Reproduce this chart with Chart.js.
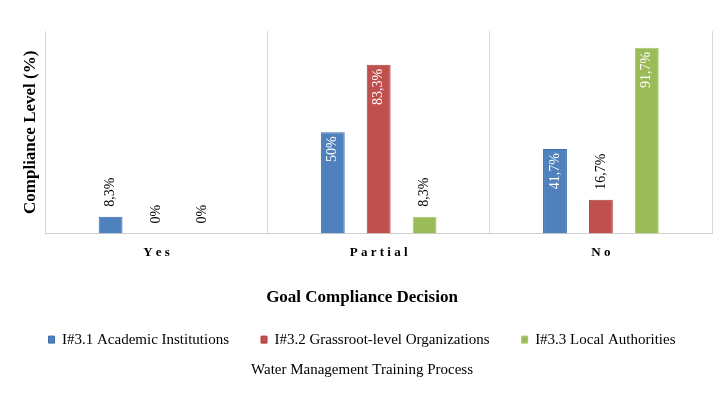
<!DOCTYPE html>
<html>
<head>
<meta charset="utf-8">
<script src="https://cdn.jsdelivr.net/npm/chart.js@4/dist/chart.umd.min.js"></script>
<style>
  html, body { margin: 0; padding: 0; background: #fff; }
  #wrap { width: 717px; height: 393px; position: relative; }
</style>
</head>
<body>
<div id="wrap"><canvas id="c" width="717" height="393"></canvas></div>
<script>
const categories = ["Y e s", "P a r t i a l", "N o"];
const seriesNames = ["I#3.1 Academic Institutions", "I#3.2 Grassroot-level Organizations", "I#3.3 Local Authorities"];
const academic = [8.3, 50, 41.7];
const grassroot = [0, 83.3, 16.7];
const localAuth = [0, 8.3, 91.7];
const colors = ["#4F81BD", "#C0504D", "#9BBB59"];
const borders = ["#3B6EAD", "#B23F3C", "#A9C96B"];

Chart.defaults.font.family = "'Liberation Serif', 'Times New Roman', serif";
Chart.defaults.color = "#000";

const labelPlugin = {
  id: 'barLabels',
  afterDatasetsDraw(chart) {
    const ctx = chart.ctx;
    chart.data.datasets.forEach((ds, di) => {
      const meta = chart.getDatasetMeta(di);
      meta.data.forEach((el, i) => {
        const v = ds.data[i];
        const txt = String(v).replace('.', ',') + '%';
        const inside = v > 30;
        ctx.save();
        ctx.font = "14px 'Liberation Serif', 'Times New Roman', serif";
        ctx.translate(el.x, el.y);
        ctx.rotate(-Math.PI / 2);
        ctx.textBaseline = 'middle';
        if (inside) {
          ctx.fillStyle = '#fff';
          ctx.textAlign = 'right';
          ctx.fillText(txt, -4, 0);
        } else {
          ctx.fillStyle = '#000';
          ctx.textAlign = 'left';
          ctx.fillText(txt, 10, 0);
        }
        ctx.restore();
      });
    });
  }
};

new Chart(document.getElementById('c'), {
  type: 'bar',
  data: {
    labels: categories,
    datasets: [
      { label: seriesNames[0], data: academic, backgroundColor: colors[0], borderColor: borders[0], borderWidth: 1 },
      { label: seriesNames[1], data: grassroot, backgroundColor: colors[1], borderColor: borders[1], borderWidth: 1 },
      { label: seriesNames[2], data: localAuth, backgroundColor: colors[2], borderColor: borders[2], borderWidth: 1 }
    ]
  },
  options: {
    responsive: false,
    animation: false,
    devicePixelRatio: 1,
    layout: { padding: { top: 31, left: 12, right: 5, bottom: 14.4 } },
    datasets: { bar: { categoryPercentage: 0.62, barPercentage: 0.52 } },
    scales: {
      x: {
        grid: { display: true, offset: true, drawTicks: false, color: '#d9d9d9' },
        border: { display: true, color: '#cfcfcf' },
        ticks: { padding: 11, font: { size: 13, weight: 'bold' }, color: '#000' }
      },
      y: {
        min: 0, max: 100,
        grid: { display: false },
        border: { display: false },
        ticks: { display: false },
        title: { display: true, text: 'Compliance Level (%)', font: { size: 17, weight: 'bold' }, color: '#000', padding: { top: 8, bottom: -3 } }
      }
    },
    plugins: {
      tooltip: { enabled: false },
      title: {
        display: true, position: 'bottom', weight: 100,
        text: 'Goal Compliance Decision',
        font: { size: 17, weight: 'bold' }, color: '#000',
        padding: { top: 16.2, bottom: -7.7 }
      },
      legend: {
        display: true, position: 'bottom', weight: 1000,
        labels: { boxWidth: 6, boxHeight: 7, padding: 32, font: { size: 15 }, color: '#000' }
      },
      subtitle: {
        display: true, position: 'bottom', weight: 1500,
        text: 'Water Management Training Process',
        font: { size: 15 }, color: '#000',
        padding: { top: 3.5, bottom: 0 }
      }
    }
  },
  plugins: [labelPlugin]
});
</script>
</body>
</html>
